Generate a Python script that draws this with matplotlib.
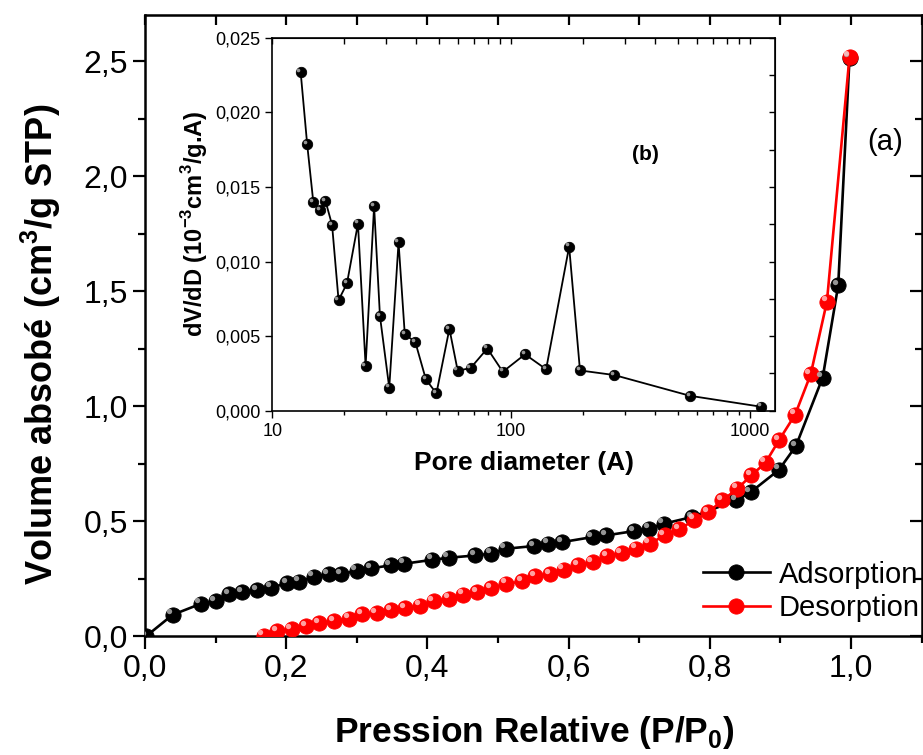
import numpy as np
import matplotlib
matplotlib.use("Agg")
import matplotlib.pyplot as plt
import matplotlib.transforms as mtransforms
from matplotlib.ticker import MultipleLocator, FuncFormatter, LogLocator, NullFormatter

plt.rcParams['font.family'] = ['Liberation Sans', 'DejaVu Sans']
plt.rcParams['mathtext.fontset'] = 'custom'
plt.rcParams['mathtext.rm'] = 'Liberation Sans'
plt.rcParams['mathtext.bf'] = 'Liberation Sans:bold'

# isotherm, adsorption branch
ads_p = [0.002, 0.039, 0.079, 0.100, 0.119, 0.138, 0.159, 0.179, 0.201, 0.218,
         0.239, 0.260, 0.278, 0.300, 0.320, 0.348, 0.367, 0.407, 0.430, 0.468,
         0.490, 0.511, 0.551, 0.571, 0.591, 0.634, 0.653, 0.693, 0.714, 0.735,
         0.775, 0.837, 0.858, 0.898, 0.922, 0.960, 0.982, 0.998]
ads_v = [0.002, 0.094, 0.142, 0.152, 0.183, 0.193, 0.200, 0.212, 0.232, 0.238,
         0.259, 0.270, 0.270, 0.286, 0.296, 0.309, 0.316, 0.333, 0.342, 0.352,
         0.360, 0.381, 0.393, 0.403, 0.410, 0.432, 0.439, 0.458, 0.468, 0.490,
         0.519, 0.591, 0.627, 0.724, 0.827, 1.125, 1.526, 2.515]

# isotherm, desorption branch
des_p = [0.168, 0.187, 0.208, 0.228, 0.247, 0.268, 0.289, 0.308, 0.328, 0.349,
         0.369, 0.390, 0.409, 0.431, 0.451, 0.471, 0.490, 0.512, 0.534, 0.553,
         0.574, 0.593, 0.614, 0.634, 0.655, 0.675, 0.696, 0.715, 0.736, 0.757,
         0.778, 0.798, 0.818, 0.839, 0.859, 0.879, 0.898, 0.921, 0.943, 0.966,
         0.998]
des_v = [0.004, 0.022, 0.033, 0.045, 0.057, 0.067, 0.077, 0.097, 0.101, 0.113,
         0.123, 0.133, 0.152, 0.164, 0.181, 0.193, 0.211, 0.229, 0.239, 0.262,
         0.270, 0.290, 0.309, 0.323, 0.348, 0.362, 0.381, 0.403, 0.439, 0.465,
         0.507, 0.540, 0.591, 0.642, 0.700, 0.755, 0.852, 0.964, 1.139, 1.455,
         2.519]

# pore size distribution (inset)
pore_d = [13.15, 14.0, 14.85, 15.9, 16.7, 17.8, 18.95, 20.55, 22.85, 24.6,
          26.7, 28.25, 30.9, 33.8, 35.9, 39.7, 44.0, 48.7, 55.2, 59.8,
          67.7, 79.6, 92.4, 114.5, 140.3, 175.2, 194.5, 271.0, 562.0, 1114.0]
pore_dv = [0.02268, 0.01786, 0.01400, 0.01346, 0.01406, 0.01246, 0.00741, 0.00853,
           0.01254, 0.00301, 0.01371, 0.00634, 0.00154, 0.01129, 0.00511, 0.00462,
           0.00210, 0.00116, 0.00549, 0.00268, 0.00286, 0.00417, 0.00261, 0.00378,
           0.00278, 0.01100, 0.00270, 0.00239, 0.00100, 0.00027]

fig = plt.figure(figsize=(9.23, 7.55), dpi=100)
ax = fig.add_axes([0.1571, 0.157, 0.8413, 0.8231])


def balls(a, x, y, color, hi, ms, lw):
    # line + shaded ball markers
    line, = a.plot(x, y, '-', color=color, lw=lw, marker='o', ms=ms,
                   mfc=color, mec=color, mew=0.6, zorder=3)
    tr = mtransforms.offset_copy(a.transData, fig=fig, x=-ms * 0.22, y=ms * 0.22, units='points')
    a.plot(x, y, 'o', ms=ms * 0.35, mfc=hi, mec='none', alpha=0.85,
           transform=tr, zorder=4)
    return line


l1 = balls(ax, ads_p, ads_v, 'black', '#b0b0b0', 11, 1.9)
l2 = balls(ax, des_p, des_v, '#ff0000', '#ffc0c0', 11, 1.9)

ax.set_xlim(0, 1.1)
ax.set_ylim(0, 2.7)
comma1 = FuncFormatter(lambda v, p: f"{v:.1f}".replace('.', ','))
ax.xaxis.set_major_locator(MultipleLocator(0.2))
ax.xaxis.set_minor_locator(MultipleLocator(0.1))
ax.yaxis.set_major_locator(MultipleLocator(0.5))
ax.yaxis.set_minor_locator(MultipleLocator(0.25))
ax.xaxis.set_major_formatter(comma1)
ax.yaxis.set_major_formatter(comma1)
ax.tick_params(which='major', direction='out', length=9, width=1.6, labelsize=23)
ax.tick_params(which='minor', direction='out', length=5, width=1.6)
for s in ax.spines.values():
    s.set_linewidth(1.8)

# mirrored ticks pointing inwards on top and right
top = ax.secondary_xaxis('top')
top.xaxis.set_major_locator(MultipleLocator(0.1))
top.tick_params(direction='in', length=7, width=1.6, labeltop=False)
right = ax.secondary_yaxis('right')
right.yaxis.set_major_locator(MultipleLocator(0.5))
right.yaxis.set_minor_locator(MultipleLocator(0.25))
right.tick_params(which='major', direction='in', length=9, width=1.6, labelright=False)
right.tick_params(which='minor', direction='in', length=5, width=1.6)

ax.set_xlabel(r'Pression Relative (P/P$_\mathbf{0}$)', fontsize=25.5, fontweight='bold')
ax.xaxis.set_label_coords(0.502, -0.124)
ax.set_ylabel(r'Volume absobé (cm$^\mathbf{3}$/g STP)', fontsize=26, fontweight='bold')
ax.yaxis.set_label_coords(-0.105, 0.47)

ax.legend([l1, l2], ['Adsorption', 'Desorption'], loc='lower right',
          bbox_to_anchor=(1.022, -0.008), frameon=False, fontsize=21,
          handlelength=2.3, handletextpad=0.3, labelspacing=0.2, borderaxespad=0.25)
ax.text(0.953, 0.796, '(a)', transform=ax.transAxes, fontsize=21, ha='center', va='center')

# inset: pore size distribution
ins = fig.add_axes([0.295, 0.456, 0.545, 0.494])
balls(ins, pore_d, pore_dv, 'black', '#b0b0b0', 7.5, 1.3)
ins.set_xscale('log')
ins.set_xlim(10, 1280)
ins.set_ylim(0, 0.025)
ins.xaxis.set_major_locator(LogLocator(base=10))
ins.xaxis.set_minor_locator(LogLocator(base=10, subs=np.arange(2, 10)))
ins.xaxis.set_minor_formatter(NullFormatter())
ins.xaxis.set_major_formatter(FuncFormatter(lambda v, p: f"{v:g}"))
ins.yaxis.set_major_locator(MultipleLocator(0.005))
ins.yaxis.set_major_formatter(FuncFormatter(lambda v, p: f"{v:.3f}".replace('.', ',')))
ins.tick_params(which='major', direction='out', length=5, width=1.0, labelsize=13)
ins.tick_params(which='minor', direction='out', length=3, width=1.0)
for s in ins.spines.values():
    s.set_linewidth(1.2)
itop = ins.secondary_xaxis('top')
itop.xaxis.set_major_locator(LogLocator(base=10))
itop.xaxis.set_minor_locator(LogLocator(base=10, subs=np.arange(2, 10)))
itop.tick_params(which='both', direction='in', length=4, width=1.0, labeltop=False)
iright = ins.secondary_yaxis('right')
iright.yaxis.set_major_locator(MultipleLocator(0.0025))
iright.tick_params(direction='in', length=4, width=1.0, labelright=False)
ins.set_xlabel('Pore diameter (A)', fontsize=19, fontweight='bold', labelpad=8)
ins.set_ylabel(r'dV/dD (10$^\mathbf{-3}$cm$^\mathbf{3}$/g.A)', fontsize=17, fontweight='bold',
               labelpad=4)
ins.text(0.741, 0.686, '(b)', transform=ins.transAxes, fontsize=15, fontweight='bold',
         ha='center', va='center')

fig.savefig('out.png', dpi=100)
